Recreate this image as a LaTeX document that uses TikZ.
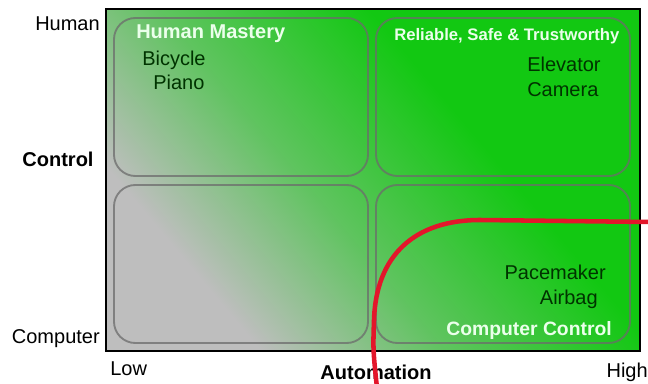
\documentclass[tikz,border=0pt]{standalone}
\usepackage{fontspec}
\setmainfont{Liberation Sans}
\definecolor{ctlgreen}{HTML}{12C812}
\definecolor{ctlgray}{HTML}{BEBEBE}
\definecolor{curvered}{HTML}{E3162B}
\pgfdeclareverticalshading{graytogreen}{100bp}{color(0bp)=(ctlgray); color(28bp)=(ctlgray); color(44bp)=(ctlgreen!55!ctlgray); color(62bp)=(ctlgreen); color(100bp)=(ctlgreen)}
\tikzset{
  plane/.style={draw=black, line width=2pt, shade, shading=graytogreen, shading angle=-50,
    minimum width=400.5pt, minimum height=256.5pt, inner sep=0pt},
  quad/.style={draw=gray!85!black, draw opacity=.75, line width=1.4pt, rounded corners=16pt,
    minimum width=190.5pt, minimum height=118.5pt, inner sep=0pt},
  lbl/.style={inner sep=0pt, font=\fontsize{15}{18}\selectfont},
  axlbl/.style={inner sep=0pt, font=\bfseries\fontsize{15}{18}\selectfont},
  ttl/.style={inner sep=0pt, text=white!92!green, font=\bfseries\fontsize{#1}{18}\selectfont},
  item/.style={inner sep=0pt, text=black!80!green, font=\fontsize{15}{18}\selectfont}
}
\begin{document}
\begin{tikzpicture}[x=0.75pt,y=-0.75pt]
\useasboundingbox (0,0) rectangle (648,384);
\node[plane] (plane) at (373,180) {};
% quadrants
\node[quad] (mastery) at (241,97) {};
\node[quad] (trust) at (503,97) {};
\node[quad] (manual) at (241,264) {};
\node[quad] (compctl) at (503,264) {};
% axes
\node[lbl, anchor=base east] (human) at (100,31) {Human};
\node[axlbl, anchor=base] (control) at (58,167) {Control};
\node[lbl, anchor=base east] (computer) at (100,343) {Computer};
\node[lbl, anchor=base west] (low) at (110,375) {Low};
\node[axlbl, anchor=base] (automation) at (376,379) {Automation};
\node[lbl, anchor=base east] (high) at (648,377) {High};
% titles and examples
\node[ttl=15, anchor=base west] (masterytitle) at (136,39) {Human Mastery};
\node[ttl=12.5, anchor=base west] (trusttitle) at (394,41) {Reliable, Safe \& Trustworthy};
\node[ttl=14.5, anchor=base east] (compctltitle) at (612,335) {Computer Control};
\node[item, anchor=base west] (bicycle) at (142,66) {Bicycle};
\node[item, anchor=base west] (piano) at (153,90) {Piano};
\node[item, anchor=base west] (elevator) at (527,72) {Elevator};
\node[item, anchor=base west] (camera) at (527,97) {Camera};
\node[item, anchor=base east] (pacemaker) at (606,279) {Pacemaker};
\node[item, anchor=base east] (airbag) at (598,304) {Airbag};
% red boundary
\draw[curvered, line width=3.4pt] (650,222) -- (480,220) .. controls (415,220) and (376,255) .. (374,320) .. controls (373,350) .. (377,388);
\end{tikzpicture}
\end{document}
